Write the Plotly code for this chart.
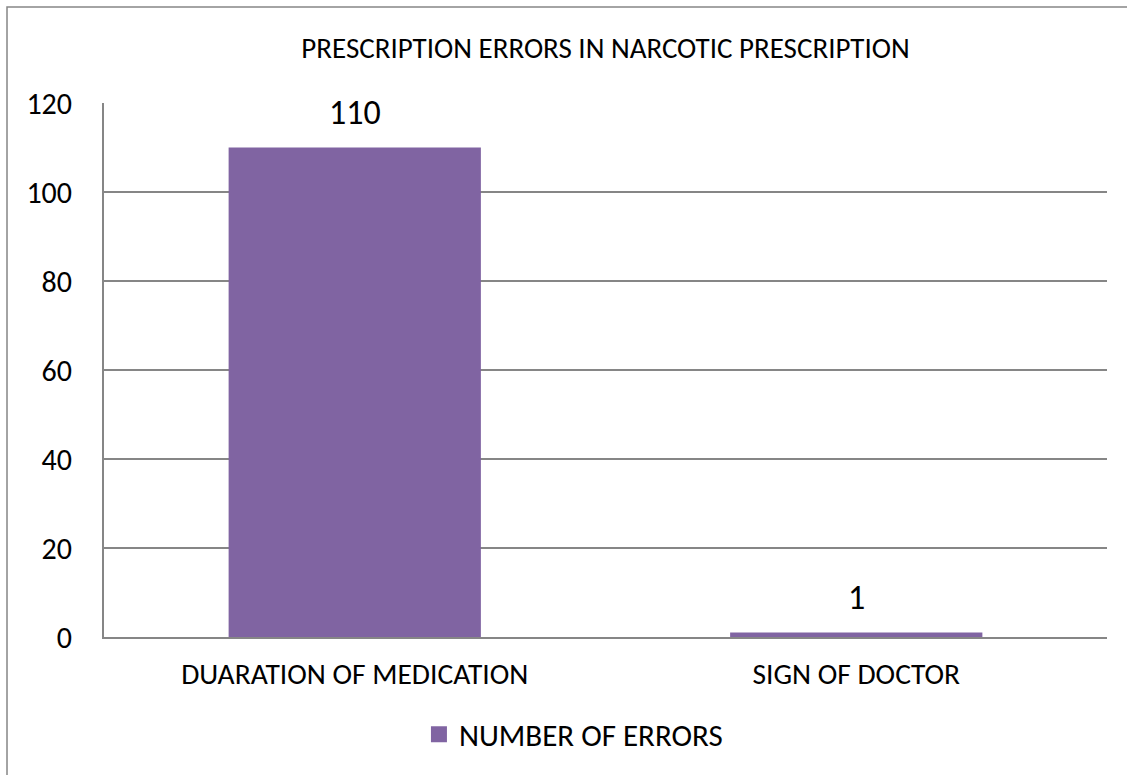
import plotly.graph_objects as go

categories = ["DUARATION OF MEDICATION", "SIGN OF DOCTOR"]
values = [110, 1]
series_name = "NUMBER OF ERRORS"
y_ticks = [0, 20, 40, 60, 80, 100, 120]

FONT = "Carlito, Lato, Liberation Sans, sans-serif"
BAR_COLOR = "#8064A2"

fig = go.Figure()
fig.add_trace(go.Bar(
    x=categories, y=values, name=series_name,
    marker=dict(color=BAR_COLOR, line=dict(width=0)),
    showlegend=False, legendgroup="s", hoverinfo="x+y",
))
# legend entry with a larger square swatch
fig.add_trace(go.Scatter(
    x=[None], y=[None], mode="markers", name=series_name, legendgroup="s",
    marker=dict(symbol="square", size=17, color=BAR_COLOR), showlegend=True,
))
for c, v in zip(categories, values):
    fig.add_annotation(x=c, y=v, xref="x", yref="y", text=str(v), showarrow=False,
                       yanchor="bottom", yshift=13,
                       font=dict(size=34, family=FONT, color="#000000"))

fig.update_layout(
    width=1127, height=775,
    margin=dict(l=104, r=20, t=103, b=138),
    paper_bgcolor="white", plot_bgcolor="white",
    bargap=0.497,
    font=dict(family=FONT, color="#000000"),
    title=dict(text="PRESCRIPTION ERRORS IN NARCOTIC PRESCRIPTION",
               x=0.5, xref="paper", xanchor="center",
               y=1 - 48 / 775, yref="container", yanchor="middle",
               font=dict(size=29, family=FONT, color="#000000")),
    showlegend=True,
    legend=dict(orientation="h", x=0.314, xanchor="left", y=-0.183, yanchor="middle",
                font=dict(size=31, family=FONT, color="#000000"),
                itemwidth=30, traceorder="normal"),
    shapes=[dict(type="rect", xref="paper", yref="paper",
                 x0=-0.0967, x1=1.5, y0=1.1797, y1=-1.0,
                 line=dict(color="#868686", width=1.5), fillcolor="rgba(0,0,0,0)",
                 layer="below")],
)

fig.update_xaxes(showline=True, linecolor="#868686", linewidth=2,
                 showgrid=False, tickfont=dict(size=29.5, family=FONT),
                 ticks="", ticklabelstandoff=10)
fig.update_yaxes(range=[0, 120], tickvals=y_ticks, showline=True, linecolor="#868686",
                 linewidth=2, showgrid=True, gridcolor="#868686", gridwidth=1.5,
                 zeroline=False, tickfont=dict(size=30, family=FONT),
                 ticks="", ticklabelstandoff=24)

fig.write_html("out.html")
